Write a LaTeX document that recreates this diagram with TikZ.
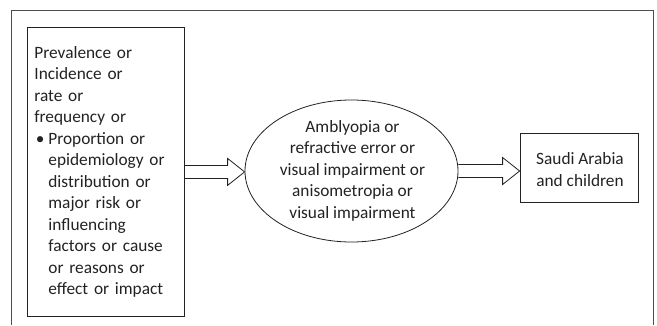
\documentclass[tikz,border=0pt]{standalone}
\usepackage{fontspec}
\setmainfont{Carlito}
\usetikzlibrary{shapes.geometric,calc}
\definecolor{ink}{HTML}{222222}
\newcommand\fatarrow[2]{%
  \draw[arrowline] ($(#1)+(0,-6.5)$) -- ($(#2 |- #1)+(-17,-6.5)$) -- ($(#2 |- #1)+(-17,-13.5)$) -- (#2 |- #1)
    -- ($(#2 |- #1)+(-17,13.5)$) -- ($(#2 |- #1)+(-17,6.5)$) -- ($(#1)+(0,6.5)$);}
\begin{document}
\begin{tikzpicture}[x=1pt,y=-1pt,
  every node/.style={font=\fontsize{17.3}{21.5}\selectfont, text=ink},
  boxline/.style={draw=ink, line width=0.8pt},
  arrowline/.style={draw=ink, line width=0.8pt, line join=miter},
  frameline/.style={draw=ink!80, line width=0.8pt}]
\useasboundingbox (0,0) rectangle (657,325);
\draw[frameline] (11,325) -- (11,10) -- (653,10) -- (653,325);
\node[boxline, rectangle, minimum width=157, minimum height=289, inner xsep=7pt, inner ysep=0pt,
      text width=143, align=left, anchor=north west] (src) at (27,27)
  {Prevalence or\\
   Incidence or\\
   rate or\\
   frequency or\\
   \makebox[14pt][l]{\hspace*{1.5pt}•}Proportion or\\
   \hspace*{14pt}epidemiology or\\
   \hspace*{14pt}distribution or\\
   \hspace*{14pt}major risk or\\
   \hspace*{14pt}influencing\\
   \hspace*{14pt}factors or cause\\
   \hspace*{14pt}or reasons or\\
   \hspace*{14pt}effect or impact};
\node[boxline, ellipse, minimum width=213, minimum height=142, inner sep=0pt] (mid) at (351.5,171) {};
\node[align=center, inner sep=0pt] (midtext) at (352.5,170.5)
  {Amblyopia or\\ refractive error or\\ visual impairment or\\ anisometropia or\\ visual impairment};
\node[boxline, rectangle, minimum width=118, minimum height=69, inner sep=0pt] (dst) at (579,167.5) {};
\node[align=center, inner sep=0pt] (dsttext) at (580,169.5) {Saudi Arabia\\ and children};
\fatarrow{src.east}{mid.west}
\fatarrow{mid.east}{dst.west}
\end{tikzpicture}
\end{document}
